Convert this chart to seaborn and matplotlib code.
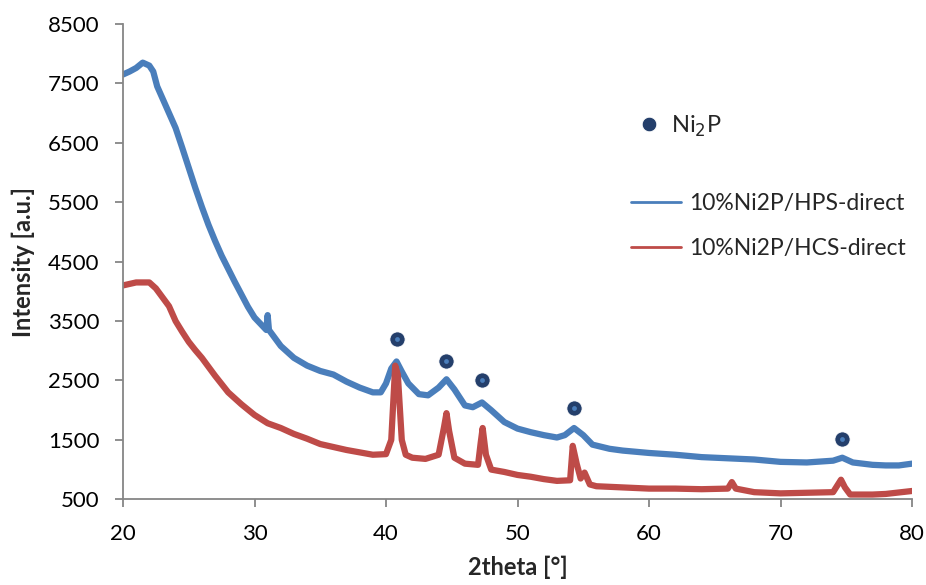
import matplotlib
matplotlib.use("Agg")
import matplotlib.pyplot as plt
from matplotlib.lines import Line2D
import pandas as pd
import seaborn as sns

# XRD patterns (2theta in degrees, intensity in a.u.)
hps_theta = [20, 20.5, 21, 21.5, 22, 22.3, 22.6, 23, 23.5, 24, 24.5, 25, 25.5,
             26, 26.5, 27, 27.5, 28, 28.5, 29, 29.5, 30, 30.9, 31, 31.1, 32,
             33, 34, 35, 36, 37, 38, 39, 39.6, 40, 40.4, 40.8, 41.2, 41.7,
             42.5, 43.2, 44, 44.6, 45.2, 46, 46.6, 47.3, 48, 49, 50, 51, 52,
             53, 53.6, 54.3, 55, 55.7, 57, 58, 60, 62, 64, 66, 68, 70, 72, 74,
             74.7, 75.5, 77, 78, 79, 80]
hps_counts = [7650, 7700, 7760, 7850, 7800, 7700, 7450, 7250, 7000, 6750,
              6420, 6080, 5740, 5420, 5120, 4850, 4600, 4380, 4160, 3950, 3740,
              3560, 3350, 3600, 3350, 3080, 2880, 2750, 2660, 2600, 2480, 2380,
              2300, 2300, 2450, 2700, 2820, 2650, 2450, 2270, 2250, 2380, 2520,
              2350, 2080, 2050, 2130, 2000, 1800, 1690, 1630, 1580, 1540, 1580,
              1700, 1580, 1420, 1350, 1320, 1280, 1250, 1210, 1190, 1170, 1130,
              1120, 1150, 1200, 1120, 1080, 1070, 1070, 1100]

hcs_theta = [20, 21, 22, 22.5, 23, 23.5, 24, 24.5, 25, 25.5, 26, 26.5, 27,
             27.5, 28, 28.5, 29, 30, 31, 32, 33, 34, 35, 36, 37, 38, 39, 40,
             40.4, 40.7, 40.9, 41.2, 41.5, 42, 43, 44, 44.4, 44.6, 44.8, 45.2,
             46, 47, 47.2, 47.35, 47.6, 48, 49, 50, 51, 52, 53, 54, 54.2, 54.5,
             54.8, 55.1, 55.5, 56, 58, 60, 62, 64, 66, 66.3, 66.6, 68, 70, 72,
             74, 74.6, 74.9, 75.3, 77, 78, 80]
hcs_counts = [4100, 4150, 4150, 4050, 3900, 3750, 3500, 3320, 3150, 3010, 2880,
              2730, 2580, 2440, 2300, 2200, 2100, 1920, 1780, 1700, 1600, 1520,
              1430, 1380, 1330, 1290, 1250, 1260, 1500, 2750, 2600, 1500, 1250,
              1200, 1180, 1250, 1700, 1950, 1650, 1200, 1100, 1080, 1450, 1700,
              1250, 1000, 960, 910, 880, 840, 810, 820, 1400, 1100, 850, 950,
              750, 720, 700, 680, 680, 670, 680, 790, 680, 620, 600, 610, 620,
              830, 700, 580, 580, 590, 640]

# Ni2P reflection markers
ni2p_theta = [40.8, 44.6, 47.3, 54.3, 74.7]
ni2p_counts = [3200, 2830, 2500, 2030, 1520]

series_names = ["10%Ni2P/HPS-direct", "10%Ni2P/HCS-direct"]
series_colors = ["#4a7ebb", "#be4b48"]
marker_color = "#243f6b"
x_ticks = [20, 30, 40, 50, 60, 70, 80]
y_ticks = [500, 1500, 2500, 3500, 4500, 5500, 6500, 7500, 8500]

sns.set_theme(style="white")
plt.rcParams["font.family"] = ["Lato", "DejaVu Sans"]

df = pd.concat([
    pd.DataFrame({"theta": hps_theta, "counts": hps_counts, "sample": series_names[0]}),
    pd.DataFrame({"theta": hcs_theta, "counts": hcs_counts, "sample": series_names[1]}),
], ignore_index=True)
peaks = pd.DataFrame({"theta": ni2p_theta, "counts": ni2p_counts})

fig = plt.figure(figsize=(9.26, 5.85), dpi=100)
ax = fig.add_axes([123 / 926, 1 - 499.3 / 585, (912 - 123) / 926, (499.3 - 24) / 585])

sns.lineplot(data=df, x="theta", y="counts", hue="sample", hue_order=series_names,
             palette=series_colors, sort=False, estimator=None, linewidth=4.5,
             legend=False, ax=ax)
sns.scatterplot(data=peaks, x="theta", y="counts", color=marker_color, s=120,
                edgecolor="white", linewidth=0.6, ax=ax, zorder=5)
sns.scatterplot(data=peaks, x="theta", y="counts", color="#4a7ebb", s=12,
                linewidth=0, ax=ax, zorder=6)

ax.set_xlim(20, 80)
ax.set_ylim(500, 8500)
ax.set_xticks(x_ticks)
ax.set_yticks(y_ticks)
sns.despine(ax=ax)
for side in ("left", "bottom"):
    ax.spines[side].set_color("#868686")
    ax.spines[side].set_linewidth(1.3)
ax.tick_params(axis="both", which="major", bottom=True, left=True, direction="out",
               length=6, width=1.3, color="#868686", labelsize=16, labelcolor="black")
ax.tick_params(axis="y", pad=11)
ax.tick_params(axis="x", pad=12)

ax.set_xlabel("2theta [°]", fontsize=17, fontweight="bold", labelpad=8)
ax.set_ylabel("Intensity [a.u.]", fontsize=17, fontweight="bold", labelpad=9)

marker_handle = Line2D([], [], linestyle="none", marker="o", markersize=10.5,
                       markerfacecolor=marker_color, markeredgecolor="white",
                       markeredgewidth=0.6)
leg1 = ax.legend([marker_handle], ["Ni$_2$P"], loc="center left",
                 bbox_to_anchor=(640 / 926, 1 - 126 / 585),
                 bbox_transform=fig.transFigure, frameon=False, fontsize=17,
                 handlelength=0.8, handletextpad=0.5, borderpad=0, borderaxespad=0)
ax.add_artist(leg1)

line_handles = [Line2D([], [], color=c, linewidth=2) for c in series_colors]
ax.legend(line_handles, series_names, loc="upper left",
          bbox_to_anchor=(631 / 926, 1 - 193 / 585),
          bbox_transform=fig.transFigure, frameon=False, fontsize=16.5,
          handlelength=2.2, handletextpad=0.35, labelspacing=1.05,
          borderpad=0, borderaxespad=0)

fig.savefig("out.png", dpi=100)
